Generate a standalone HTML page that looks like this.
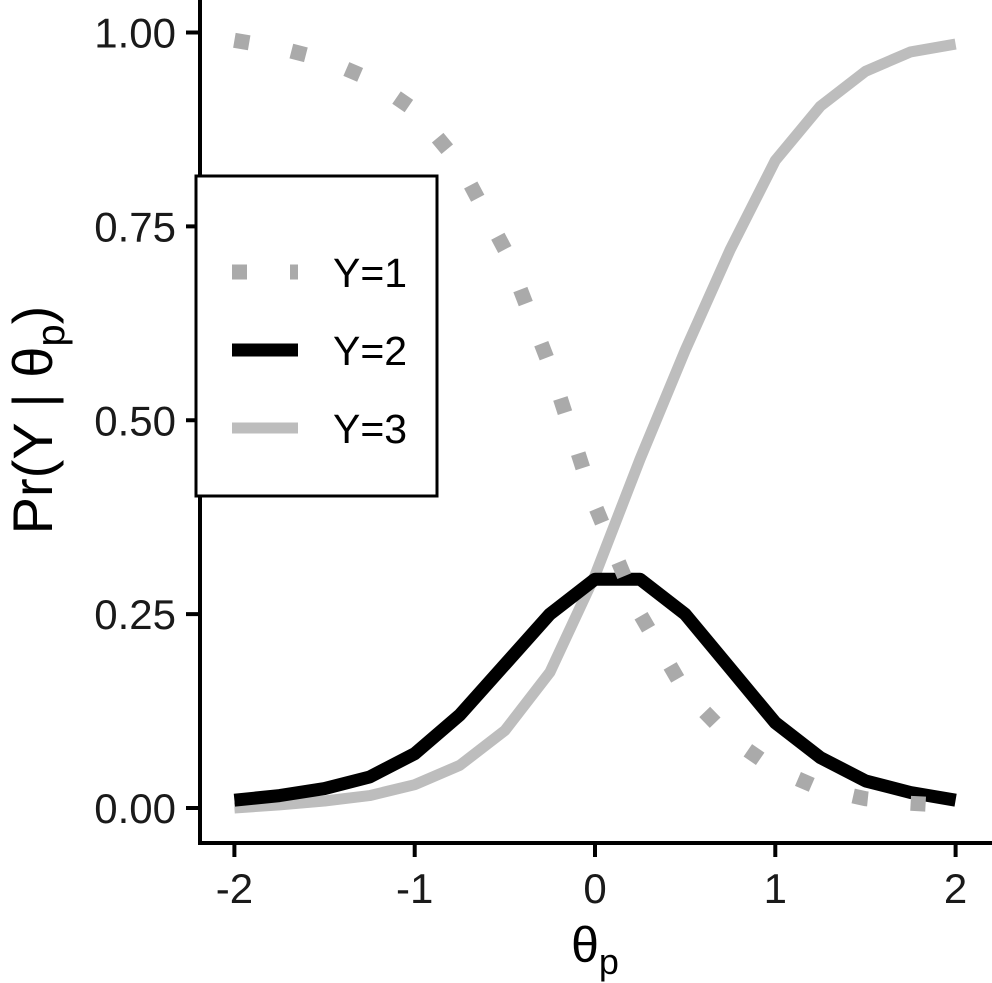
<!DOCTYPE html>
<html><head><meta charset="utf-8"><style>
html,body{margin:0;padding:0;background:#fff;}
body{position:relative;width:992px;height:983px;overflow:hidden}
svg{display:block;font-family:"Liberation Sans",Arial,sans-serif;}
</style></head><body>
<svg id="chart" width="992" height="983" viewBox="0 0 992 983" xmlns="http://www.w3.org/2000/svg">
<g id="plot"></g>
</svg>
<script>
const thetaValues = [-2,-1.75,-1.5,-1.25,-1,-0.75,-0.5,-0.25,0,0.25,0.5,0.75,1,1.25,1.5,1.75,2];
const seriesY1 = [0.99,0.98,0.965,0.94,0.9,0.83,0.72,0.57,0.39,0.25,0.15,0.09,0.05,0.025,0.012,0.006,0.003];
const seriesY2 = [0.01,0.016,0.025,0.04,0.07,0.12,0.185,0.25,0.295,0.295,0.25,0.18,0.11,0.065,0.035,0.02,0.01];
const seriesY3 = [0.0,0.004,0.009,0.016,0.03,0.055,0.1,0.175,0.3,0.45,0.59,0.72,0.835,0.905,0.95,0.975,0.985];
const yTickValues = [0,0.25,0.5,0.75,1];
const yTickLabels = ["0.00","0.25","0.50","0.75","1.00"];
const xTickValues = [-2,-1,0,1,2];
const xTickLabels = ["-2","-1","0","1","2"];

const NS="http://www.w3.org/2000/svg";
const g=document.getElementById('plot');
function X(v){return 595+v*180.3;}
function Y(v){return 808-v*775.5;}
function mk(tag,attrs,parent){const e=document.createElementNS(NS,tag);for(const k in attrs)e.setAttribute(k,attrs[k]);(parent||g).appendChild(e);return e;}

function pathD(vals){return vals.map((v,i)=>(i?'L':'M')+X(thetaValues[i]).toFixed(1)+','+Y(v).toFixed(1)).join(' ');}
const s3=mk('path',{d:pathD(seriesY3),fill:'none',stroke:'#bdbdbd','stroke-width':11,'stroke-linejoin':'round'});


const s2=mk('path',{d:pathD(seriesY2),fill:'none',stroke:'#000','stroke-width':13,'stroke-linejoin':'round'});


const s1=mk('path',{d:pathD(seriesY1),fill:'none',stroke:'#aaaaaa','stroke-width':15,'stroke-dasharray':'15 43'});



const ya=mk('line',{x1:200,y1:0,x2:200,y2:845,stroke:'#000','stroke-width':4});


const xa=mk('line',{x1:198,y1:843,x2:992,y2:843,stroke:'#000','stroke-width':4});



yTickValues.forEach((v,i)=>{
  const t=mk('line',{x1:186,y1:Y(v),x2:200,y2:Y(v),stroke:'#000','stroke-width':4});
  
  
  const l=mk('text',{x:176,y:Y(v)+15,'text-anchor':'end','font-size':42,fill:'#1a1a1a'});
  l.textContent=yTickLabels[i];
  
  
});
xTickValues.forEach((v,i)=>{
  const t=mk('line',{x1:X(v),y1:843,x2:X(v),y2:857,stroke:'#000','stroke-width':4});
  
  
  const l=mk('text',{x:X(v),y:903,'text-anchor':'middle','font-size':42,fill:'#1a1a1a'});
  l.textContent=xTickLabels[i];
  
  
});
</script>
<svg style="position:absolute;left:0;top:0" width="992" height="983">
  <text x="595" y="962" text-anchor="middle" font-family="Liberation Sans, sans-serif" font-size="50">θ<tspan font-size="36" dy="12">p</tspan></text>
  <text transform="translate(52,420) rotate(-90)" text-anchor="middle" font-family="Liberation Sans, sans-serif" font-size="56">Pr(Y | θ<tspan font-size="40" dy="12">p</tspan><tspan dy="-12">)</tspan></text>
  <g>
    <rect x="196" y="176" width="241" height="320" fill="#fff" stroke="#000" stroke-width="3"/>
    <g>
      <line x1="232" y1="272" x2="298" y2="272" stroke="#aaaaaa" stroke-width="15" stroke-dasharray="15 43"/>
      <text x="333" y="287" font-family="Liberation Sans, sans-serif" font-size="41">Y=1</text>
    </g>
    <g>
      <line x1="232" y1="350" x2="298" y2="350" stroke="#000" stroke-width="13"/>
      <text x="333" y="365" font-family="Liberation Sans, sans-serif" font-size="41">Y=2</text>
    </g>
    <g>
      <line x1="232" y1="428" x2="298" y2="428" stroke="#bdbdbd" stroke-width="11"/>
      <text x="333" y="443" font-family="Liberation Sans, sans-serif" font-size="41">Y=3</text>
    </g>
  </g>
</svg>
</body></html>
